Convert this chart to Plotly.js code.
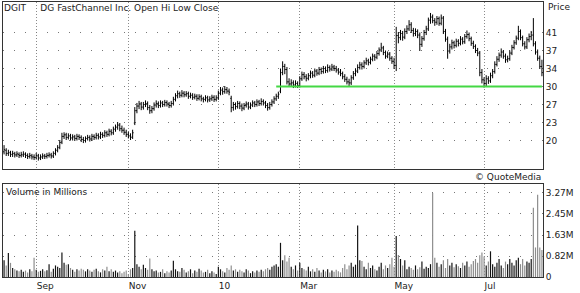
<!DOCTYPE html>
<html><head><meta charset="utf-8">
<script src="https://cdn.plot.ly/plotly-3.0.1.min.js"></script>
<style>html,body{margin:0;padding:0;background:#fff;}#chart{width:580px;height:293px;}</style>
</head><body><div id="chart"></div>
<script>
const symbol = 'DGIT';
const company = 'DG FastChannel Inc.';
const firstDay = '2009-08-11';
const marketHolidays = ['2009-09-07','2009-11-26','2009-12-25','2010-01-01','2010-01-18','2010-02-15','2010-04-02','2010-05-31','2010-07-05'];

const openP = [
17.6,17.9,17.3,17.4,17.1,17.2,17.0,17.1,16.9,17.0,
17.1,16.9,16.7,16.8,16.6,16.5,16.8,16.4,16.6,16.8,
16.7,16.9,17.0,16.8,17.3,17.9,18.5,19.5,20.6,20.9,
20.4,20.7,20.3,20.5,20.2,20.6,20.4,20.0,19.8,20.2,
20.4,20.1,20.6,20.4,20.8,20.5,21.0,20.8,21.3,21.0,
21.6,21.3,22.0,22.4,22.8,22.1,21.8,21.4,21.0,20.7,
20.5,23.2,25.6,26.5,26.9,26.3,26.8,27.0,26.2,25.6,
26.0,26.7,27.0,26.6,27.1,26.8,27.2,26.9,26.6,27.0,
27.8,28.5,28.9,28.6,29.0,28.7,28.9,28.4,28.6,28.2,
28.4,28.0,28.3,27.9,27.8,28.1,27.7,27.9,28.2,27.8,
28.1,29.0,29.6,29.3,29.7,29.4,28.0,26.2,26.8,26.4,
27.0,26.5,26.1,26.6,26.9,26.3,26.7,27.1,26.8,27.3,
27.0,27.4,27.1,26.6,26.2,26.8,27.3,27.9,28.4,29.4,
33.0,34.2,33.6,31.2,30.8,31.0,30.6,30.9,30.5,31.8,
32.6,32.2,31.9,32.4,32.9,32.5,33.3,32.9,33.6,33.2,
33.8,33.4,34.0,33.7,34.1,33.8,33.5,33.1,32.8,32.2,
31.7,31.2,31.0,32.0,32.8,33.3,34.0,34.5,34.2,34.9,
35.3,35.0,35.6,36.2,36.0,36.7,37.4,37.8,36.9,36.2,
36.6,35.8,35.2,34.4,40.2,39.8,40.6,39.9,41.0,41.5,
42.3,41.2,40.6,41.0,40.3,38.5,39.6,40.8,41.5,43.2,
43.8,43.1,42.8,43.5,42.6,43.6,41.0,39.5,37.2,38.0,
38.8,38.3,39.1,38.7,39.5,39.0,40.0,40.4,39.6,38.7,
38.1,37.3,36.8,33.0,31.6,30.9,31.8,31.4,32.4,33.2,
34.6,35.6,36.4,37.0,36.2,35.5,35.7,36.8,37.9,38.8,
39.7,41.0,39.8,38.6,38.0,39.4,40.0,40.3,38.6,37.0,
35.8,34.2];

const highP = [
18.9,18.3,18.0,17.8,17.8,17.6,17.7,17.5,17.6,17.7,
17.5,17.3,17.4,17.2,17.1,17.4,17.2,17.1,17.3,17.2,
17.4,17.5,17.4,17.7,18.3,18.9,19.9,21.3,21.4,21.3,
21.2,21.1,21.0,20.9,21.1,21.0,20.8,20.5,20.6,20.9,
20.8,21.1,21.0,21.3,21.2,21.5,21.4,21.8,21.7,22.1,
22.0,22.5,22.9,23.4,23.2,22.7,22.3,21.9,21.5,21.2,
21.9,26.3,27.1,27.5,27.3,27.3,27.6,27.4,26.7,26.5,
27.2,27.6,27.4,27.6,27.5,27.7,27.6,27.3,27.5,28.3,
29.0,29.5,29.3,29.6,29.4,29.4,29.3,29.1,29.0,28.9,
28.8,28.8,28.7,28.3,28.6,28.5,28.4,28.7,28.6,28.6,
29.5,30.2,30.1,30.4,30.2,29.9,28.5,27.3,27.2,27.5,
27.4,27.0,27.1,27.4,27.3,27.2,27.6,27.5,27.8,27.7,
28.0,27.8,27.5,27.1,27.3,27.8,28.4,28.9,29.3,33.8,
35.2,34.7,34.1,31.9,31.7,31.5,31.5,31.3,32.3,33.2,
33.1,32.7,32.9,33.4,33.3,33.8,33.7,34.1,34.0,34.3,
34.2,34.6,34.4,34.7,34.5,34.3,33.9,33.7,33.2,32.7,
32.2,31.8,32.5,33.3,33.8,34.6,35.1,35.0,35.4,35.9,
35.7,36.1,36.7,36.6,37.2,37.9,38.8,38.2,37.3,37.1,
37.0,36.2,35.9,41.9,40.9,41.3,41.1,41.6,42.2,43.2,
42.8,41.7,41.6,41.4,40.8,40.1,41.3,42.1,43.7,44.6,
44.3,43.6,44.0,43.9,44.3,44.0,41.5,40.0,38.6,39.4,
39.2,39.6,39.5,40.1,39.9,40.5,41.2,40.8,40.0,39.2,
38.5,37.8,37.2,33.7,32.1,32.5,32.3,33.0,33.7,35.2,
36.2,36.9,37.7,37.4,36.7,36.3,37.3,38.4,39.3,40.2,
42.1,41.4,40.2,39.1,39.9,40.6,41.1,43.6,39.1,37.5,
36.3,35.5];

const lowP = [
17.1,16.8,16.8,16.6,16.6,16.5,16.6,16.4,16.5,16.6,
16.4,16.2,16.3,16.1,16.0,16.1,15.9,16.0,16.2,16.2,
16.3,16.5,16.3,16.4,16.9,17.5,18.1,19.1,20.1,19.9,
20.0,19.8,19.8,19.7,19.8,19.9,19.5,19.3,19.4,19.8,
19.6,19.7,19.9,20.0,20.0,20.1,20.3,20.4,20.5,20.6,
20.8,20.9,21.5,21.9,21.6,21.3,20.9,20.5,20.2,19.9,
20.1,22.8,25.1,25.9,25.7,25.8,26.3,25.7,25.0,25.1,
25.6,26.2,26.1,26.2,26.3,26.4,26.4,26.1,26.2,26.6,
27.4,28.0,28.1,28.2,28.2,28.3,27.9,28.0,27.7,27.8,
27.5,27.6,27.4,27.2,27.4,27.2,27.3,27.5,27.3,27.4,
27.7,28.6,28.7,28.9,28.9,28.6,25.3,25.6,25.8,26.0,
25.9,25.5,25.7,26.2,25.8,25.9,26.3,26.3,26.4,26.5,
26.6,26.6,26.1,25.6,25.8,26.4,26.9,27.5,27.9,29.0,
32.5,32.7,30.7,30.2,30.3,30.0,30.1,30.0,30.1,31.4,
31.7,31.3,31.5,31.9,32.0,32.1,32.4,32.5,32.7,32.8,
32.9,33.0,33.2,33.3,33.3,33.0,32.6,32.3,31.7,31.2,
30.7,30.3,30.6,31.6,32.3,32.9,33.6,33.6,33.8,34.5,
34.4,34.6,35.2,35.3,35.6,36.3,37.0,36.4,35.7,35.8,
35.3,34.7,33.7,33.3,38.7,39.3,39.2,39.5,40.5,41.1,
40.7,40.0,40.1,39.7,37.2,38.0,39.2,40.3,41.1,42.5,
42.6,42.1,42.3,42.1,42.2,40.5,39.0,35.7,36.7,37.5,
37.7,37.9,38.1,38.3,38.5,38.6,39.6,39.1,38.2,37.6,
36.8,36.2,32.3,30.9,30.1,30.4,30.8,31.0,31.9,32.8,
34.2,35.1,35.9,35.7,34.9,35.0,35.3,36.4,37.5,38.4,
39.3,39.3,38.1,37.5,37.6,38.9,39.3,38.1,36.5,35.3,
33.7,32.3];

const closeP = [
18.0,17.3,17.5,17.1,17.3,17.0,17.2,16.9,17.1,17.2,
16.9,16.7,16.9,16.6,16.5,16.9,16.4,16.6,16.8,16.7,
16.9,17.0,16.8,17.3,17.9,18.4,19.4,20.6,20.9,20.4,
20.7,20.3,20.5,20.2,20.6,20.4,20.0,19.8,20.2,20.4,
20.1,20.6,20.4,20.8,20.5,21.0,20.8,21.3,21.0,21.6,
21.3,22.0,22.4,22.8,22.1,21.8,21.4,21.0,20.7,20.4,
21.3,25.6,26.5,26.9,26.3,26.8,27.0,26.2,25.6,26.0,
26.7,27.0,26.6,27.1,26.8,27.2,26.9,26.6,27.0,27.8,
28.5,28.9,28.6,29.0,28.7,28.9,28.4,28.6,28.2,28.4,
28.0,28.3,27.9,27.8,28.1,27.7,27.9,28.2,27.8,28.1,
29.0,29.6,29.3,29.7,29.4,29.2,26.2,26.8,26.4,27.0,
26.5,26.1,26.6,26.9,26.3,26.7,27.1,26.8,27.3,27.0,
27.4,27.1,26.6,26.2,26.8,27.3,27.9,28.4,28.8,33.0,
34.2,33.6,31.2,30.8,31.0,30.6,30.9,30.5,31.8,32.6,
32.2,31.9,32.4,32.9,32.5,33.3,32.9,33.6,33.2,33.8,
33.4,34.0,33.7,34.1,33.8,33.5,33.1,32.8,32.2,31.7,
31.2,31.0,32.0,32.8,33.3,34.0,34.5,34.2,34.9,35.3,
35.0,35.6,36.2,36.0,36.7,37.4,37.8,36.9,36.2,36.6,
35.8,35.2,34.4,40.2,39.8,40.6,39.9,41.0,41.5,42.3,
41.2,40.6,41.0,40.3,38.5,39.6,40.8,41.5,43.2,43.8,
43.1,42.8,43.5,42.6,43.6,41.0,39.5,37.2,38.0,38.8,
38.3,39.1,38.7,39.5,39.0,40.0,40.4,39.6,38.7,38.1,
37.3,36.8,33.0,31.6,30.9,31.8,31.4,32.4,33.2,34.6,
35.6,36.4,37.0,36.2,35.5,35.7,36.8,37.9,38.8,39.7,
41.0,39.8,38.6,38.0,39.4,40.0,40.3,38.6,37.0,35.8,
34.2,33.0];

const volumeM = [
0.65,0.45,0.93,0.55,0.35,0.30,0.25,0.22,0.28,0.20,
0.25,0.18,0.30,0.22,0.75,0.28,0.20,0.24,0.30,0.22,
0.26,0.50,0.20,0.32,0.45,0.40,0.35,0.95,0.55,0.48,
0.50,0.35,0.28,0.20,0.30,0.25,0.32,0.28,0.22,0.30,
0.25,0.20,0.28,0.32,0.22,0.18,0.30,0.25,0.40,0.22,
0.30,0.20,0.25,0.18,0.22,0.15,0.20,0.25,0.12,0.30,
0.35,1.80,0.50,0.40,0.30,0.48,0.35,0.28,0.72,0.30,
0.22,0.25,0.18,0.20,0.30,0.15,0.22,0.18,0.25,0.63,
0.30,0.22,0.20,0.35,0.28,0.18,0.22,0.30,0.15,0.25,
0.20,0.32,0.25,0.18,0.20,0.28,0.15,0.22,0.18,0.12,
0.40,0.30,0.22,0.18,0.35,0.28,0.45,0.25,0.30,0.20,
0.28,0.22,0.18,0.30,0.25,0.15,0.22,0.18,0.25,0.20,
0.28,0.22,0.30,0.35,0.28,0.40,0.45,0.50,0.40,1.33,
0.65,0.85,0.60,0.75,0.40,0.30,0.45,0.25,0.55,0.35,
0.30,0.25,0.40,0.22,0.30,0.20,0.35,0.25,0.18,0.28,
0.22,0.30,0.18,0.25,0.20,0.28,0.22,0.18,0.35,0.50,
0.30,0.45,0.55,0.40,0.48,2.00,0.65,0.62,0.40,0.30,
0.55,0.35,0.45,0.30,0.25,0.40,0.55,0.30,0.45,0.35,
0.50,0.75,0.40,1.60,0.86,0.70,0.45,0.65,0.30,0.40,
0.35,0.28,0.45,0.30,0.38,0.60,0.32,0.40,0.35,0.50,
3.27,0.75,0.55,0.40,0.50,0.65,0.35,0.70,0.45,0.55,
0.38,0.50,0.42,0.35,0.55,0.45,0.60,0.40,0.50,0.62,
0.70,0.55,0.85,0.95,0.80,0.45,0.60,1.00,0.50,0.40,
0.55,0.70,0.45,0.35,0.60,0.50,0.70,0.55,0.45,0.65,
0.75,0.50,0.70,0.45,0.60,0.55,0.70,2.70,1.15,3.20,
1.15,1.05];

const monthTickDates = ['2009-09-01','2009-11-02','2010-01-04','2010-03-01','2010-05-03','2010-07-01'];
const monthTickText  = ['Sep','Nov','10','Mar','May','Jul'];
const priceTickVals  = [19.8,23.3,26.8,30.3,33.8,37.3,40.8];
const priceTickText  = ['20','23','27','30','34','37','41'];
const volTickVals    = [0,0.8175,1.635,2.4525,3.27];
const volTickText    = ['0','0.82M','1.63M','2.45M','3.27M'];
const supportLevel = 30.3;
const supportFrom = '2010-02-11';

function tradingDays(start, count, holidays){
  const out = [];
  const d = new Date(start + 'T00:00:00Z');
  while (out.length < count){
    const dow = d.getUTCDay();
    const s = d.toISOString().slice(0,10);
    if (dow !== 0 && dow !== 6 && holidays.indexOf(s) < 0) out.push(s);
    d.setUTCDate(d.getUTCDate() + 1);
  }
  return out;
}
const n = closeP.length;
const dates = tradingDays(firstDay, n, marketHolidays);
const volColors = closeP.map((c,i) => c >= openP[i] ? '#111111' : '#8c8c8c');

const W = 580, H = 293;
const px = v => v / W;
const py = v => 1 - v / H;
const FONT = 'DejaVu Sans';
const TXT = '#222';
const FS = 9;

const traces = [
  {type:'ohlc', x:dates, open:openP, high:highP, low:lowP, close:closeP, xaxis:'x', yaxis:'y',
   increasing:{line:{color:'#000', width:1}}, decreasing:{line:{color:'#000', width:1}},
   tickwidth:0.45, hoverinfo:'skip'},
  {type:'scatter', mode:'lines', x:[supportFrom, dates[n-1]], y:[supportLevel, supportLevel],
   xaxis:'x', yaxis:'y', line:{color:'#44d844', width:2}, hoverinfo:'skip'},
  {type:'bar', x:dates, y:volumeM, xaxis:'x2', yaxis:'y2', marker:{color:volColors, line:{width:0}}, hoverinfo:'skip'}
];

const xCommon = {
  type:'category', categoryorder:'array', categoryarray:dates,
  domain:[px(3), px(543)], range:[-0.5, n - 0.5],
  tickvals:monthTickDates, ticktext:monthTickText, ticks:'',
  showgrid:true, gridcolor:'#8a8a8a', griddash:'1px,2px', gridwidth:1,
  showline:true, mirror:true, linecolor:'#333', linewidth:1, zeroline:false, fixedrange:true
};

const layout = {
  width:W, height:H, margin:{l:0, r:0, t:0, b:0},
  paper_bgcolor:'#fff', plot_bgcolor:'#fff', showlegend:false, bargap:0.45,
  font:{family:FONT, size:FS, color:TXT},
  xaxis: Object.assign({}, xCommon, {anchor:'y', showticklabels:false, rangeslider:{visible:false}}),
  xaxis2: Object.assign({}, xCommon, {anchor:'y2', showticklabels:true, ticklabelposition:'outside right',
    tickfont:{family:FONT, size:FS, color:TXT}}),
  yaxis: {domain:[py(169), py(2)], range:[14.26, 46.73], side:'right', anchor:'x',
    tickvals:priceTickVals, ticktext:priceTickText, ticks:'', tickfont:{family:FONT, size:FS, color:TXT},
    showgrid:true, gridcolor:'#777', griddash:'1px,10px', gridwidth:1,
    showline:true, mirror:true, linecolor:'#333', linewidth:1, zeroline:false, fixedrange:true},
  yaxis2: {domain:[py(277), py(184)], range:[0, 3.62], side:'right', anchor:'x2',
    tickvals:volTickVals, ticktext:volTickText, ticks:'', tickfont:{family:FONT, size:FS, color:TXT},
    showgrid:true, gridcolor:'#777', griddash:'1px,10px', gridwidth:1,
    showline:true, mirror:true, linecolor:'#333', linewidth:1, zeroline:false, fixedrange:true},
  annotations: [
    {xref:'paper', yref:'paper', x:px(2), y:py(8), xanchor:'left', yanchor:'middle', showarrow:false,
     text:symbol + '\u00a0\u00a0\u00a0\u00a0 ' + company + ' Open Hi Low Close', font:{family:FONT, size:FS, color:TXT}},
    {xref:'paper', yref:'paper', x:px(546), y:py(7), xanchor:'left', yanchor:'middle', showarrow:false,
     text:'Price', font:{family:FONT, size:FS, color:TXT}},
    {xref:'paper', yref:'paper', x:px(4), y:py(192), xanchor:'left', yanchor:'middle', showarrow:false,
     text:'Volume in Millions', font:{family:FONT, size:FS, color:TXT}},
    {xref:'paper', yref:'paper', x:px(543), y:py(177), xanchor:'right', yanchor:'middle', showarrow:false,
     text:'\u00a9 QuoteMedia', font:{family:FONT, size:FS, color:TXT}}
  ]
};

Plotly.newPlot('chart', traces, layout, {staticPlot:true, displayModeBar:false});
</script>
</body></html>
